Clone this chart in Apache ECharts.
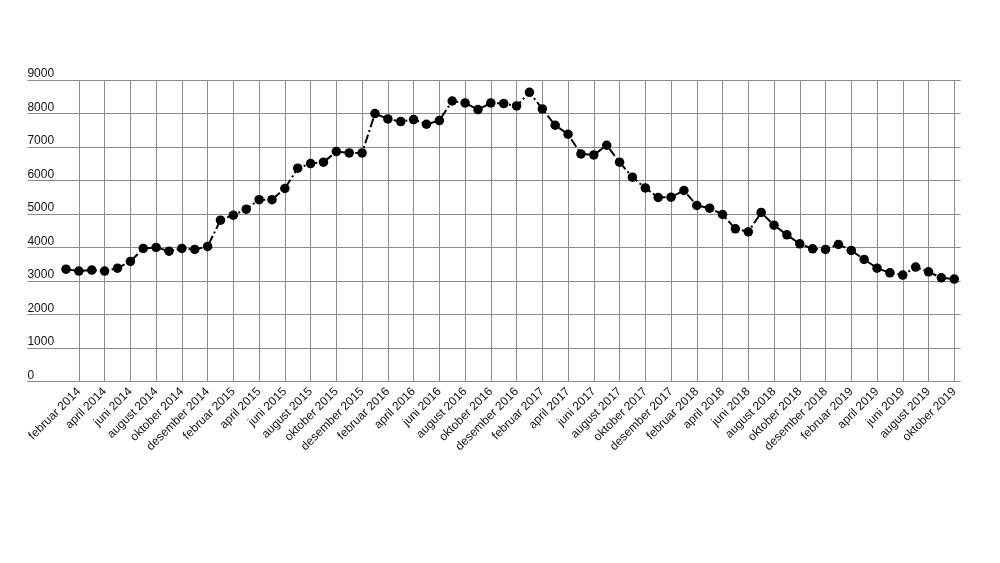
<!DOCTYPE html>
<html><head><meta charset="utf-8">
<script src="https://cdn.jsdelivr.net/npm/echarts@6/dist/echarts.min.js"></script>
<style>html,body{margin:0;padding:0;background:#fff}#c{width:1000px;height:563px}</style>
</head><body><div id="c"></div>
<script>
const months = [
  "januar 2014","februar 2014","mars 2014","april 2014","mai 2014","juni 2014","juli 2014","august 2014","september 2014","oktober 2014","november 2014","desember 2014",
  "januar 2015","februar 2015","mars 2015","april 2015","mai 2015","juni 2015","juli 2015","august 2015","september 2015","oktober 2015","november 2015","desember 2015",
  "januar 2016","februar 2016","mars 2016","april 2016","mai 2016","juni 2016","juli 2016","august 2016","september 2016","oktober 2016","november 2016","desember 2016",
  "januar 2017","februar 2017","mars 2017","april 2017","mai 2017","juni 2017","juli 2017","august 2017","september 2017","oktober 2017","november 2017","desember 2017",
  "januar 2018","februar 2018","mars 2018","april 2018","mai 2018","juni 2018","juli 2018","august 2018","september 2018","oktober 2018","november 2018","desember 2018",
  "januar 2019","februar 2019","mars 2019","april 2019","mai 2019","juni 2019","juli 2019","august 2019","september 2019","oktober 2019"
];
const values = [
  3358,3299,3329,3299,3388,3587,3975,4005,3895,3975,3945,4035,
  4819,4968,5147,5430,5430,5763,6368,6508,6547,6866,6825,6825,
  7998,7838,7760,7820,7680,7790,8374,8315,8118,8315,8296,8225,
  8633,8136,7650,7382,6795,6765,7054,6547,6100,5781,5495,5504,
  5704,5257,5176,4988,4560,4470,5048,4670,4381,4113,3964,3945,
  4095,3916,3648,3388,3248,3180,3418,3278,3099,3060
];
const yMin = 0, yMax = 9000, yStep = 1000;
const labelIdx = months.map((m, i) => i).filter(i => i % 2 === 1);

const gridColor = '#8c8c8c';
const chart = echarts.init(document.getElementById('c'), null, {renderer: 'canvas'});
chart.setOption({
  animation: false,
  backgroundColor: '#fff',
  textStyle: {fontFamily: '"Liberation Sans", Arial, sans-serif'},
  grid: {left: 27.4, right: 39.3, top: 80, bottom: 181.3, containLabel: false},
  xAxis: {
    type: 'value', min: -3, max: 69.5,
    axisLine: {show: false},
    axisTick: {show: false, customValues: labelIdx},
    axisLabel: {customValues: labelIdx, formatter: v => months[v] || '', rotate: 45, fontSize: 12, color: '#111', margin: 8},
    splitLine: {show: true, lineStyle: {color: gridColor, width: 1}}
  },
  yAxis: {
    type: 'value', min: yMin, max: yMax, interval: yStep,
    axisLine: {show: false}, axisTick: {show: false},
    axisLabel: {align: 'left', verticalAlign: 'bottom', margin: 0, fontSize: 12, color: '#111', formatter: v => String(v)},
    splitLine: {show: true, lineStyle: {color: gridColor, width: 1}}
  },
  series: [{
    type: 'line',
    data: values.map((v, i) => [i, v]),
    symbol: 'circle', symbolSize: 9.5,
    itemStyle: {color: '#000'},
    lineStyle: {color: '#000', width: 2, type: [9, 3, 2, 3]}
  }]
});
</script>
</body></html>
